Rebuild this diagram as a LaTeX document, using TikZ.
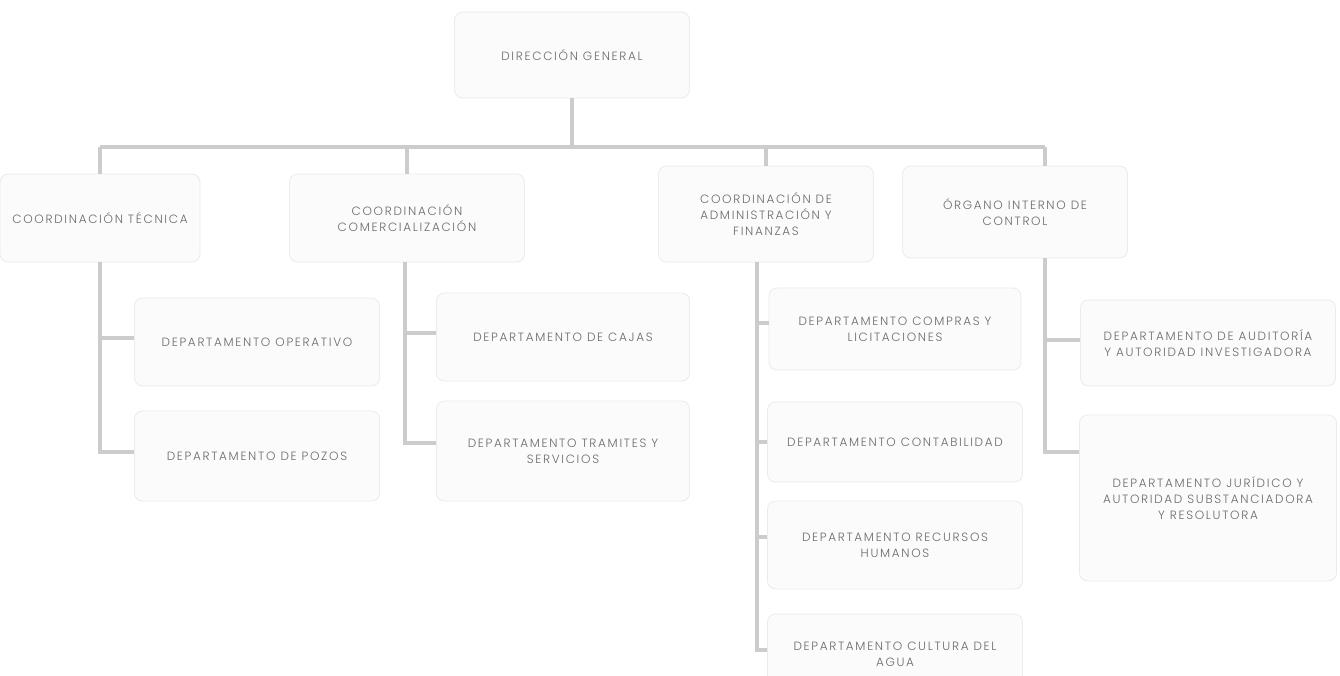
\documentclass[tikz,border=0pt]{standalone}
\usepackage{fontspec}
\setmainfont{Poppins}[UprightFont=* Light, LetterSpace=14]
\begin{document}
\begin{tikzpicture}[x=1pt,y=-1pt,
  box/.style={draw=black!8, fill=black!1.5, rounded corners=8pt, line width=0.8pt,
    align=center, text=black!58, inner sep=0pt,
    font=\fontsize{12}{16}\selectfont},
  conn/.style={draw=black!20, line width=3.5pt, line cap=square}]
\useasboundingbox[fill=white] (0,0) rectangle (1340,675);
% level 1
\node[box, minimum width=235, minimum height=86] (dg) at (572,55) {DIRECCIÓN GENERAL};
% level 2
\node[box, minimum width=200, minimum height=88] (ct) at (100,218) {COORDINACIÓN TÉCNICA};
\node[box, minimum width=235, minimum height=88] (cc) at (407,218) {COORDINACIÓN\\COMERCIALIZACIÓN};
\node[box, minimum width=215, minimum height=96] (ca) at (766,214) {COORDINACIÓN DE\\ADMINISTRACIÓN Y\\FINANZAS};
\node[box, minimum width=225, minimum height=92] (oi) at (1015,212) {ÓRGANO INTERNO DE\\CONTROL};
% level 3
\node[box, minimum width=245, minimum height=88] (dop) at (257,342) {DEPARTAMENTO OPERATIVO};
\node[box, minimum width=245, minimum height=90] (dpz) at (257,456) {DEPARTAMENTO DE POZOS};
\node[box, minimum width=253, minimum height=88] (dcj) at (563,337) {DEPARTAMENTO DE CAJAS};
\node[box, minimum width=253, minimum height=100] (dtr) at (563,451) {DEPARTAMENTO TRAMITES Y\\SERVICIOS};
\node[box, minimum width=252, minimum height=82] (dcm) at (895,329) {DEPARTAMENTO COMPRAS Y\\LICITACIONES};
\node[box, minimum width=255, minimum height=80] (dcn) at (895,442) {DEPARTAMENTO CONTABILIDAD};
\node[box, minimum width=255, minimum height=88] (drh) at (895,545) {DEPARTAMENTO RECURSOS\\HUMANOS};
\node[box, minimum width=255, minimum height=80] (dcu) at (895,654) {DEPARTAMENTO CULTURA DEL\\AGUA};
\node[box, minimum width=255, minimum height=86] (dau) at (1208,343) {DEPARTAMENTO DE AUDITORÍA\\Y AUTORIDAD INVESTIGADORA};
\node[box, minimum width=257, minimum height=166] (dju) at (1208,498) {DEPARTAMENTO JURÍDICO Y\\AUTORIDAD SUBSTANCIADORA\\Y RESOLUTORA};
% bus
\coordinate (bus) at (572,147);
\coordinate (oidrop) at (1045,147);
\draw[conn] (dg.south) -- (bus);
\draw[conn] (bus -| ct.north) -- (oidrop);
\draw[conn] (bus -| ct.north) -- (ct.north);
\draw[conn] (bus -| cc.north) -- (cc.north);
\draw[conn] (bus -| ca.north) -- (ca.north);
\draw[conn] (oidrop) -- (oidrop |- oi.north);
% spines
\draw[conn] (ct.south) |- ([yshift=4pt]dop.west);
\draw[conn] (ct.south) |- ([yshift=4pt]dpz.west);
\draw[conn] ([xshift=-2pt]cc.south) |- ([yshift=4pt]dcj.west);
\draw[conn] ([xshift=-2pt]cc.south) |- ([yshift=8pt]dtr.west);
\draw[conn] ([xshift=-9pt]ca.south) |- ([yshift=6pt]dcm.west);
\draw[conn] ([xshift=-9pt]ca.south) |- (dcn.west);
\draw[conn] ([xshift=-9pt]ca.south) |- ([yshift=8pt]drh.west);
\draw[conn] ([xshift=-9pt]ca.south) |- ([yshift=4pt]dcu.west);
\draw[conn] ([xshift=30pt]oi.south) |- ([yshift=3pt]dau.west);
\draw[conn] ([xshift=30pt]oi.south) |- ([yshift=46pt]dju.west);
\end{tikzpicture}
\end{document}
